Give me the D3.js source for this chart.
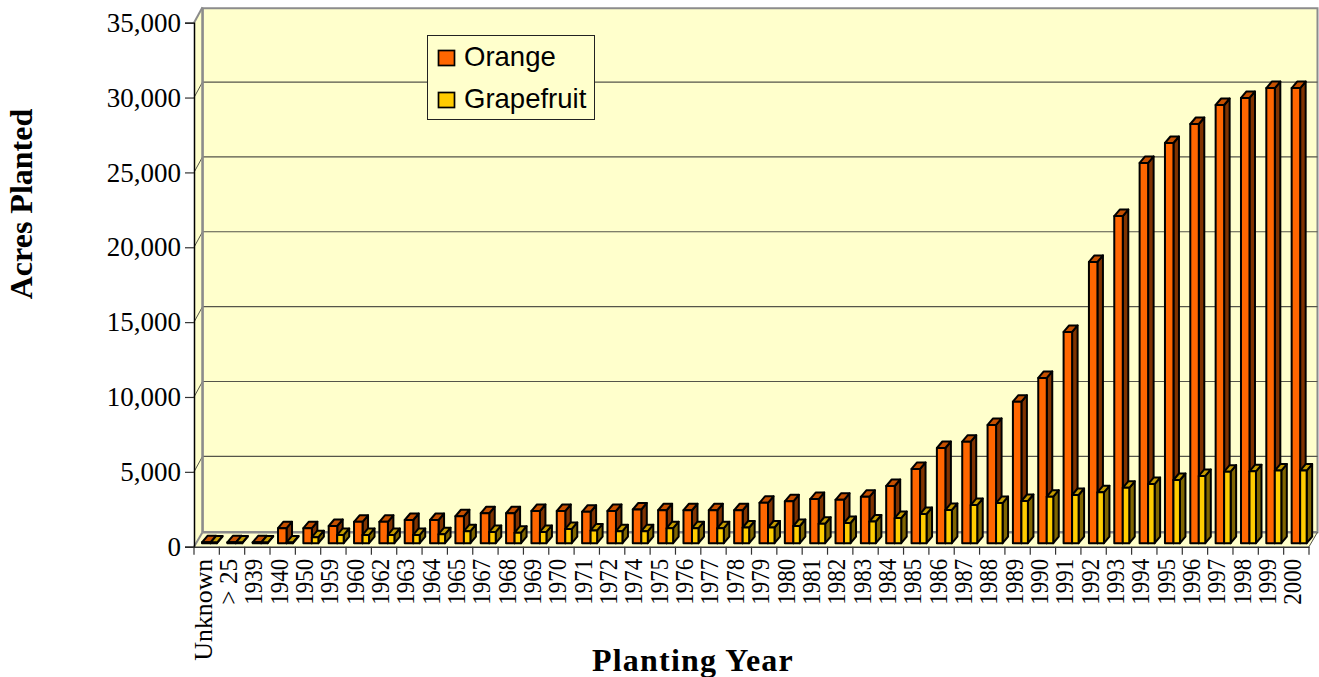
<!DOCTYPE html>
<html>
<head>
<meta charset="utf-8">
<script src="https://cdn.jsdelivr.net/npm/d3@7"></script>
<style>
  html, body { margin: 0; padding: 0; background: #fff; overflow: hidden; }
  .tick-y text { font-family: "Liberation Serif", serif; font-size: 27px; fill: #000; }
  .tick-x text { font-family: "Liberation Serif", serif; font-size: 25px; fill: #000; }
  .title { font-family: "Liberation Serif", serif; font-size: 32px; font-weight: bold; fill: #000; }
  .legend-label { font-family: "Liberation Sans", sans-serif; font-size: 27.5px; fill: #000; }
</style>
</head>
<body>
<div id="chart"></div>
<script>
const years = ["Unknown", "> 25", "1939", "1940", "1950", "1959", "1960", "1962", "1963", "1964", "1965",
    "1967", "1968", "1969", "1970", "1971", "1972", "1974", "1975", "1976", "1977", "1978", "1979", "1980",
    "1981", "1982", "1983", "1984", "1985", "1986", "1987", "1988", "1989", "1990", "1991", "1992", "1993",
    "1994", "1995", "1996", "1997", "1998", "1999", "2000"];

const orange = [60, 60, 60, 1000, 1000, 1150, 1430, 1430, 1550, 1550, 1800,
    2000, 2000, 2150, 2150, 2100, 2150, 2250, 2200, 2200, 2200, 2200, 2700, 2800,
    2950, 2900, 3100, 3820, 4960, 6360, 6780, 7900, 9450, 11040, 14110, 18790, 21850,
    25400, 26730, 28000, 29270, 29740, 30400, 30400];

const grapefruit = [40, 40, 40, 50, 400, 550, 550, 550, 550, 600, 800,
    750, 700, 750, 950, 850, 800, 800, 1000, 1000, 1000, 1050, 1050, 1150,
    1300, 1350, 1450, 1680, 1950, 2220, 2550, 2680, 2820, 3110, 3220, 3400, 3700,
    3950, 4220, 4490, 4780, 4800, 4850, 4850];

const seriesNames = ["Orange", "Grapefruit"];
const yTicks = [0, 5000, 10000, 15000, 20000, 25000, 30000, 35000];

const width = 1319, height = 677;
const wallColor = "#ffffcc", wallEdge = "#8c8c8c";

// depth of the chart box, and of a bar inside it
const boxDx = 8.5, boxDy = -14.5, gridDy = -15.5;
const barDx = 5.5, barDy = -6.5, barInX = 8, barInY = -3.5;
const orangeW = 8.5, grapeW = 6.5;

const svg = d3.select("#chart").append("svg")
    .attr("width", width)
    .attr("height", height)
    .style("display", "block");

const x = d3.scaleBand().domain(years).range([194, 1309]);
const y = d3.scaleLinear().domain([0, 35000]).range([546.7, 22.7]);

const left = x.range()[0], right = x.range()[1];
const y0 = y(0), yTop = y(35000);
const pts = a => a.map(p => p.join(",")).join(" ");

// Walls: back, left side, floor
svg.append("polygon")
    .attr("points", pts([[left + boxDx, yTop + boxDy], [right + boxDx, yTop + boxDy], [right + boxDx, y0 + boxDy], [left + boxDx, y0 + boxDy]]))
    .attr("fill", wallColor)
    .attr("stroke", wallEdge)
    .attr("stroke-width", 2);
svg.append("polygon")
    .attr("points", pts([[left, yTop], [left + boxDx, yTop + boxDy], [left + boxDx, y0 + boxDy], [left, y0]]))
    .attr("fill", wallColor);
svg.append("polygon")
    .attr("points", pts([[left, y0], [left + boxDx, y0 + boxDy], [right + boxDx, y0 + boxDy], [right, y0]]))
    .attr("fill", wallColor);

// Grid lines on the back wall, with the links across the side wall
const grid = svg.append("g");
yTicks.slice(1, -1).forEach(t => {
    grid.append("line")
        .attr("x1", left + boxDx).attr("x2", right + boxDx)
        .attr("y1", y(t) + gridDy).attr("y2", y(t) + gridDy)
        .attr("stroke", "#55554a").attr("stroke-width", 1.2);
});
yTicks.slice(1).forEach(t => {
    grid.append("line")
        .attr("x1", left).attr("x2", left + boxDx)
        .attr("y1", y(t)).attr("y2", y(t) + gridDy)
        .attr("stroke", t === 35000 ? wallEdge : "#55554a").attr("stroke-width", t === 35000 ? 2 : 1);
});
svg.append("line")
    .attr("x1", left + boxDx).attr("x2", left + boxDx)
    .attr("y1", yTop + boxDy).attr("y2", y0 + boxDy)
    .attr("stroke", wallEdge).attr("stroke-width", 2.5);
svg.append("line")
    .attr("x1", left).attr("x2", left + boxDx)
    .attr("y1", y0).attr("y2", y0 + boxDy)
    .attr("stroke", wallEdge).attr("stroke-width", 2);
svg.append("line")
    .attr("x1", left + boxDx).attr("x2", right + boxDx)
    .attr("y1", y0 + boxDy).attr("y2", y0 + boxDy)
    .attr("stroke", wallEdge).attr("stroke-width", 2.5);
svg.append("line")
    .attr("x1", right).attr("x2", right + boxDx)
    .attr("y1", y0).attr("y2", y0 + boxDy)
    .attr("stroke", "#55554a").attr("stroke-width", 1);

// One 3D bar: side, top, front
function drawBar(g, bx, w, value, colors) {
    const base = y0 + barInY;
    const top = y(value) + barInY;
    g.append("polygon")
        .attr("points", pts([[bx + w, top], [bx + w + barDx, top + barDy], [bx + w + barDx, base + barDy], [bx + w, base]]))
        .attr("fill", colors.side);
    g.append("polygon")
        .attr("points", pts([[bx, top], [bx + barDx, top + barDy], [bx + w + barDx, top + barDy], [bx + w, top]]))
        .attr("fill", colors.top);
    g.append("rect")
        .attr("x", bx).attr("y", top)
        .attr("width", w).attr("height", base - top)
        .attr("fill", colors.front);
}

const orangeColors = { front: "#ff6600", top: "#c65000", side: "#803300" };
const grapeColors = { front: "#ffcc00", top: "#c69c00", side: "#806600" };

const bars = svg.append("g")
    .attr("stroke", "#000")
    .attr("stroke-width", 2)
    .attr("stroke-linejoin", "round");
years.forEach((d, i) => {
    drawBar(bars, x(d) + barInX, orangeW, orange[i], orangeColors);
    drawBar(bars, x(d) + barInX + orangeW, grapeW, grapefruit[i], grapeColors);
});

// Axes
const yAxis = svg.append("g")
    .attr("class", "tick-y")
    .attr("transform", `translate(${left},0)`)
    .call(d3.axisLeft(y).tickValues(yTicks).tickFormat(d3.format(",")).tickSize(9).tickPadding(4));
yAxis.select(".domain").attr("stroke", "#000").attr("stroke-width", 1.5);
yAxis.selectAll("line").attr("stroke", "#333").attr("stroke-width", 1.2);

const xAxis = svg.append("g")
    .attr("class", "tick-x")
    .attr("transform", `translate(0,${y0})`)
    .call(d3.axisBottom(x).tickSize(0).tickPadding(0));
xAxis.select(".domain").attr("stroke", "#333").attr("stroke-width", 1.5);
xAxis.selectAll("text")
    .attr("transform", "rotate(-90)")
    .attr("text-anchor", "end")
    .attr("x", -12)
    .attr("y", -3)
    .attr("dy", "0.32em")
    .attr("textLength", d => d === "Unknown" ? 102 : 46)
    .attr("lengthAdjust", "spacingAndGlyphs");
xAxis.selectAll(".edge")
    .data(d3.range(years.length + 1))
    .enter().append("line")
    .attr("x1", i => left + i * x.step())
    .attr("x2", i => left + i * x.step())
    .attr("y1", 0).attr("y2", 8)
    .attr("stroke", "#333").attr("stroke-width", 1.2);

// Titles
svg.append("text")
    .attr("class", "title")
    .attr("x", 693).attr("y", 671)
    .attr("text-anchor", "middle")
    .style("letter-spacing", "1.2px")
    .text("Planting Year");
svg.append("text")
    .attr("class", "title")
    .attr("transform", "translate(32,204) rotate(-90)")
    .attr("text-anchor", "middle")
    .text("Acres Planted");

// Legend
const legend = svg.append("g");
legend.append("rect")
    .attr("x", 427.5).attr("y", 35.5)
    .attr("width", 167).attr("height", 84)
    .attr("fill", wallColor)
    .attr("stroke", "#222").attr("stroke-width", 1);
seriesNames.forEach((name, i) => {
    legend.append("rect")
        .attr("x", 438.5).attr("y", 50.5 + i * 42)
        .attr("width", 16).attr("height", 15)
        .attr("fill", i === 0 ? orangeColors.front : grapeColors.front)
        .attr("stroke", "#000").attr("stroke-width", 1.7);
    legend.append("text")
        .attr("class", "legend-label")
        .attr("x", 464).attr("y", 65.5 + i * 42)
        .text(name);
});
</script>
</body>
</html>
